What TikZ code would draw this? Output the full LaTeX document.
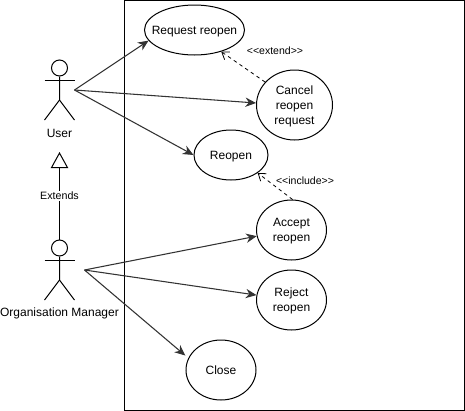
\documentclass[tikz,border=0pt]{standalone}
\usepackage{fontspec}
\setmainfont{Liberation Sans}
\usetikzlibrary{arrows.meta,shapes.geometric}
\tikzset{
	usecase/.style={ellipse, draw, line width=0.75pt, inner sep=-8pt, text depth=0pt, font=\fontsize{9}{11.2}\selectfont, align=center},
	label/.style={inner sep=0.5pt, font=\fontsize{9}{11}\selectfont},
	tag/.style={inner sep=0pt, font=\fontsize{7.9}{9}\selectfont},
	assoc/.style={draw=black!80, line width=0.8pt, -{Stealth[length=8pt,width=7pt]}},
	depends/.style={dashed, dash pattern=on 2.6pt off 2.6pt, line width=0.6pt, -{Straight Barb[length=5pt,width=7pt]}},
	actorhead/.style={circle, draw, line width=0.75pt, inner sep=0pt, minimum size=12pt}
}
\begin{document}
\begin{tikzpicture}[x=0.75pt, y=-0.75pt]
	\useasboundingbox (0,0) rectangle (465,411);
	\draw[line width=0.75pt] (124.5,0.5) rectangle (464,410);
	% use cases
	\node[usecase, minimum width=75pt, minimum height=37.5pt] (request) at (194.5,30) [] {Request reopen};
	\node[usecase, minimum width=57pt, minimum height=52.5pt] (cancel) at (294.5,105) [] {Cancel\\reopen\\request};
	\node[usecase, minimum width=55.5pt, minimum height=37.5pt] (reopen) at (231,155) [] {Reopen};
	\node[usecase, minimum width=52.5pt, minimum height=45pt] (accept) at (291.5,230) [] {Accept\\reopen};
	\node[usecase, minimum width=52.5pt, minimum height=45pt] (reject) at (291.5,300) [] {Reject\\reopen};
	\node[usecase, minimum width=52.5pt, minimum height=45pt] (close) at (221,370) [] {Close};
	% actors
	\node[actorhead] (userhead) at (59.5,68) [] {};
	\draw[line width=0.75pt] (userhead) -- (59.5,100) -- (44.5,120);
	\draw[line width=0.75pt] (59.5,100) -- (74.5,120);
	\draw[line width=0.75pt] (44.5,80) -- (74.5,80);
	\node[label] (userlabel) at (59.5,133) [] {User};
	\node[actorhead] (managerhead) at (59.5,248) [] {};
	\draw[line width=0.75pt] (managerhead) -- (59.5,280) -- (44.5,300);
	\draw[line width=0.75pt] (59.5,280) -- (74.5,300);
	\draw[line width=0.75pt] (44.5,260) -- (74.5,260);
	\node[label] (managerlabel) at (59.5,313) [] {Organisation Manager};
	\coordinate (user) at (74.5,90);
	\coordinate (manager) at (84.5,270);
	\coordinate (extendstip) at (59.5,152);
	% connectors
	\draw[line width=0.75pt, -{Triangle[open,length=12pt,width=13pt]}] (managerhead) -- (extendstip) node[midway, fill=white, inner sep=1pt, font=\fontsize{8}{10}\selectfont] (extendslabel) {Extends};
	\draw[assoc] (user) -- (request.193);
	\draw[assoc] (user) -- (cancel.177);
	\draw[assoc] (user) -- (reopen.west);
	\draw[assoc] (manager) -- (accept.190);
	\draw[assoc] (manager) -- (reject.172);
	\draw[assoc, shorten >=3pt] (manager) -- (close.160);
	\draw[depends] (cancel.142) -- (request.-39);
	\draw[depends] (accept.88) -- (reopen.-34);
	\node[tag] (extendtag) at (275,51) [] {<{}<extend>{}>};
	\node[tag] (includetag) at (305,181) [] {<{}<include>{}>};
\end{tikzpicture}
\end{document}
